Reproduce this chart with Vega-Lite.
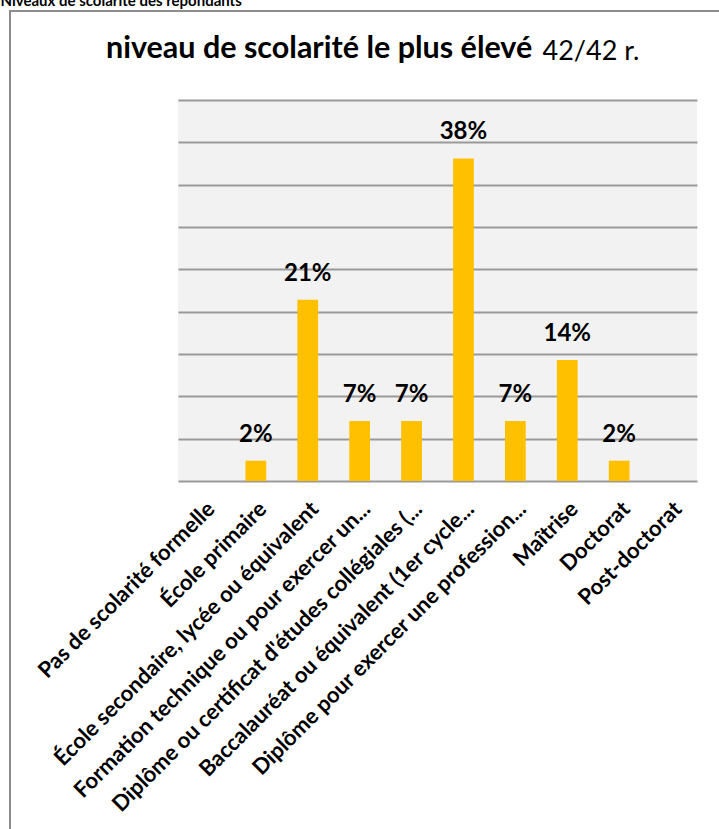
{
  "$schema": "https://vega.github.io/schema/vega-lite/v6.json",
  "width": 519,
  "height": 381,
  "autosize": {"type": "none"},
  "padding": {"left": 178, "top": 100, "right": 22, "bottom": 348},
  "background": "white",
  "title": {
    "text": "niveau de scolarité le plus élevé",
    "anchor": "start",
    "frame": "group",
    "dx": -72,
    "dy": 136,
    "baseline": "alphabetic",
    "offset": 41,
    "font": "Lato",
    "fontSize": 30.5,
    "fontWeight": "bold",
    "color": "#000000"
  },
  "data": {
    "values": [
      {"niveau": "Pas de scolarité formelle", "pct": 0},
      {"niveau": "École primaire", "pct": 0.024},
      {"niveau": "École secondaire, lycée ou équivalent", "pct": 0.214},
      {"niveau": "Formation technique ou pour exercer un...", "pct": 0.071},
      {"niveau": "Diplôme ou certificat d'études collégiales (...", "pct": 0.071},
      {"niveau": "Baccalauréat ou équivalent (1er cycle...", "pct": 0.381},
      {"niveau": "Diplôme pour exercer une profession...", "pct": 0.071},
      {"niveau": "Maîtrise", "pct": 0.143},
      {"niveau": "Doctorat", "pct": 0.024},
      {"niveau": "Post-doctorat", "pct": 0}
    ]
  },
  "encoding": {
    "x": {
      "field": "niveau",
      "type": "nominal",
      "sort": null,
      "scale": {"paddingInner": 0.6, "paddingOuter": 0.3},
      "axis": {
        "title": "Niveaux de scolarité des répondants",
        "titleX": -178,
        "titleY": -476,
        "titleAlign": "left",
        "titleAnchor": "start",
        "titleBaseline": "alphabetic",
        "titleFont": "Lato",
        "titleFontSize": 15,
        "titleFontWeight": "bold",
        "titleColor": "#000000",
        "labelAngle": -45,
        "labelFont": "Lato",
        "labelFontSize": 22,
        "labelFontWeight": "bold",
        "labelColor": "#000000",
        "labelLimit": 0,
        "labelPadding": 17,
        "ticks": false,
        "domain": false
      }
    },
    "y": {
      "field": "pct",
      "type": "quantitative",
      "scale": {"domain": [0, 0.45], "nice": false, "zero": true},
      "axis": {
        "values": [0, 0.05, 0.1, 0.15, 0.2, 0.25, 0.3, 0.35, 0.4, 0.45],
        "labels": false,
        "ticks": false,
        "domain": false,
        "grid": true,
        "gridColor": "#999999",
        "gridWidth": 2,
        "title": "42/42 r.",
        "titleAngle": 0,
        "titleX": 364,
        "titleY": -41,
        "titleAlign": "left",
        "titleBaseline": "alphabetic",
        "titleFont": "Lato",
        "titleFontSize": 27,
        "titleFontWeight": "normal",
        "titleColor": "#000000"
      }
    }
  },
  "layer": [
    {
      "mark": {"type": "bar", "color": "#FFC000"},
      "encoding": {
        "color": {
          "datum": "Répondants",
          "scale": {"range": ["#FFC000"]},
          "legend": {
            "orient": "none",
            "legendX": -168,
            "legendY": -89,
            "padding": 420,
            "strokeColor": "#8c8c8c",
            "title": null,
            "labelExpr": "''",
            "symbolSize": 0,
            "symbolOpacity": 0,
            "symbolStrokeWidth": 0
          }
        }
      }
    },
    {
      "transform": [{"filter": "datum.pct > 0"}],
      "mark": {
        "type": "text",
        "baseline": "alphabetic",
        "dy": -19,
        "font": "Lato",
        "fontSize": 24,
        "fontWeight": "bold",
        "color": "#000000"
      },
      "encoding": {
        "text": {"field": "pct", "type": "quantitative", "format": ".0%"}
      }
    }
  ],
  "config": {
    "view": {"fill": "#f2f2f2", "stroke": null},
    "legend": {"strokeWidth": 2}
  }
}
